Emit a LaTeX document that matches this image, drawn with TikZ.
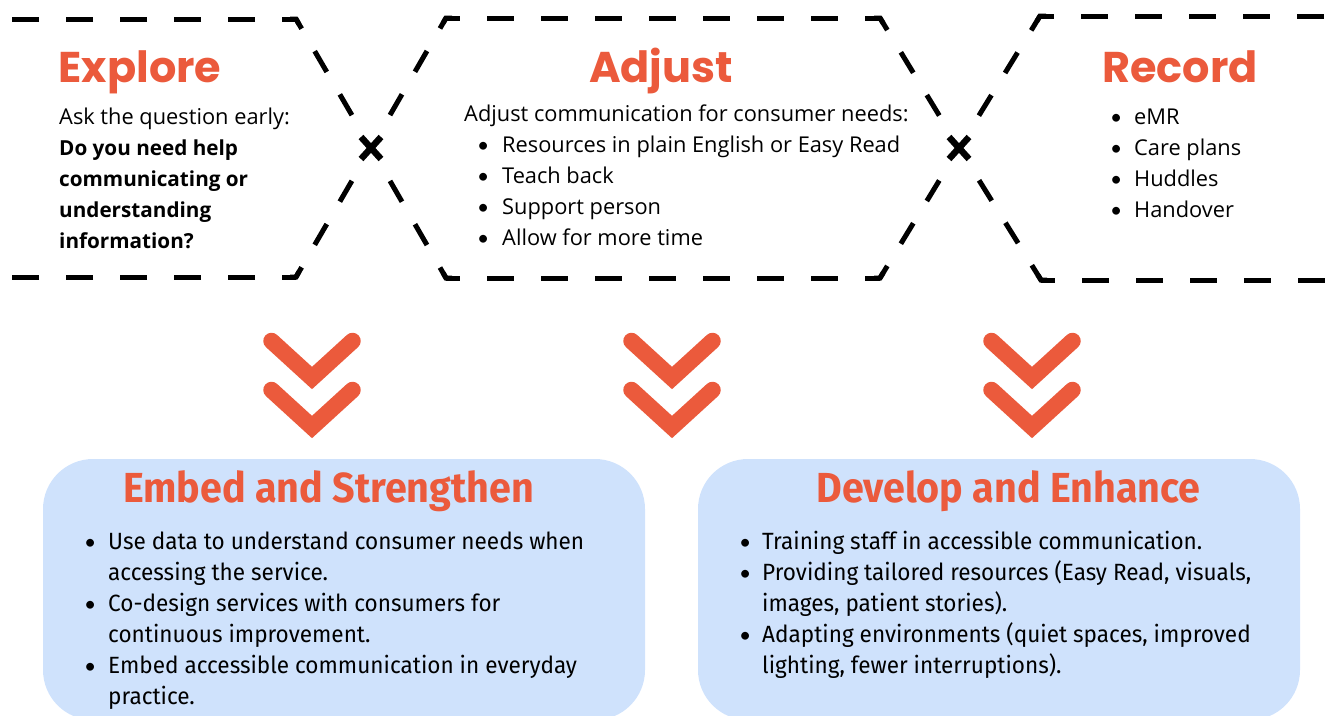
\documentclass[tikz,border=0pt]{standalone}
\usepackage{fontspec}
\setmainfont{Open Sans}
\newfontfamily\headfont{Poppins}
\newfontfamily\bulletfont{Lato}
\newfontfamily\condfont{Fira Sans}[FakeStretch=0.96]
\newfontfamily\condheadfont{Fira Sans}[FakeStretch=0.94]
\usetikzlibrary{calc}
\definecolor{accent}{HTML}{EB5A3C}
\definecolor{panel}{HTML}{CFE2FC}
% bullet marks: a fixed box holding a round dot, text follows the box
\newcommand{\dotmark}{{\bulletfont\fontsize{21}{21}\selectfont\textbullet}}
\newcommand{\topitem}{\makebox[38pt][l]{\hspace*{13pt}\dotmark}}
\newcommand{\recitem}{\makebox[24pt][l]{\dotmark}}
\newcommand{\pitem}{\makebox[24pt][l]{\dotmark}}
\newcommand{\pcont}{\hspace*{24pt}}
\newcommand{\qitem}{\makebox[23pt][l]{\dotmark}}
\newcommand{\qcont}{\hspace*{23pt}}
\newcommand{\strongline}[1]{{\fontsize{20.7}{31}\selectfont\bfseries #1}}

\begin{document}
\begin{tikzpicture}[x=1pt,y=-1pt,
  hdash/.style={line width=5pt, dash pattern=on 27pt off 27pt, dash phase=13pt},
  ddash/.style={line width=5pt, dash pattern=on 0pt off 38pt on 24pt off 26pt on 24pt off 26pt on 24pt off 26pt},
  cornerpiece/.style={line width=5pt, line join=miter},
  cross/.style={line width=6.5pt},
  chev/.style={accent, line width=16.5pt, line cap=round, line join=miter},
  panelbox/.style={fill=panel, rounded corners=50pt, draw=none},
  heading/.style={accent, font=\headfont\bfseries\fontsize{43}{43}\selectfont, inner sep=0pt, anchor=base},
  subhead/.style={accent, font=\condheadfont\bfseries\fontsize{42}{42}\selectfont, inner sep=0pt, anchor=base},
  body/.style={font=\fontsize{21.8}{31}\selectfont, inner sep=0pt, anchor=north west, align=left},
  panelbody/.style={font=\condfont\fontsize{23.5}{31}\selectfont, inner sep=0pt, anchor=north west, align=left},
]
\useasboundingbox (0,0) rectangle (1330,715);

% ---- frame vertices ----
\coordinate (X1) at (371,148);
\coordinate (X2) at (959,148);
\coordinate (ETR) at (296,19);
\coordinate (EBR) at (296,277);
\coordinate (ATL) at (446,18);
\coordinate (ABL) at (446,278);
\coordinate (ATR) at (880,18);
\coordinate (ABR) at (880,278);
\coordinate (RTL) at (1040,16);
\coordinate (RBL) at (1041,280);
\coordinate (ETL) at (12,19);
\coordinate (EBL) at (12,277);
\coordinate (RTE) at (1336,16);
\coordinate (RBE) at (1336,280);

% horizontal dashed edges, drawn from each corner outwards
\draw[hdash] (ETR) -- (ETL);
\draw[hdash] (EBR) -- (EBL);
\draw[hdash] (ATL) -- (ATR);
\draw[hdash] (ABL) -- (ABR);
\draw[hdash] (RTL) -- (RTE);
\draw[hdash] (RBL) -- (RBE);

% crossing diagonals, drawn from each crossing outwards
\foreach \v in {ETR,EBR,ATL,ABL} \draw[ddash] (X1) -- (\v);
\foreach \v in {ATR,ABR,RTL,RBL} \draw[ddash] (X2) -- (\v);

% solid bends at the corners
\draw[cornerpiece] ($(ETR)!6pt!(X1)$) -- (ETR) -- ++(-6,0);
\draw[cornerpiece] ($(EBR)!6pt!(X1)$) -- (EBR) -- ++(-6,0);
\draw[cornerpiece] ($(ATL)!6pt!(X1)$) -- (ATL) -- ++(6,0);
\draw[cornerpiece] ($(ABL)!6pt!(X1)$) -- (ABL) -- ++(6,0);
\draw[cornerpiece] ($(ATR)!6pt!(X2)$) -- (ATR) -- ++(-6,0);
\draw[cornerpiece] ($(ABR)!6pt!(X2)$) -- (ABR) -- ++(-6,0);
\draw[cornerpiece] ($(RTL)!6pt!(X2)$) -- (RTL) -- ++(6,0);
\draw[cornerpiece] ($(RBL)!6pt!(X2)$) -- (RBL) -- ++(6,0);

% crossing marks
\foreach \c in {X1,X2} {
  \draw[cross] ($(\c)+(-10,-11)$) -- ($(\c)+(10,11)$);
  \draw[cross] ($(\c)+(10,-11)$) -- ($(\c)+(-10,11)$);
}

% ---- top section texts ----
\node[heading] (explore) at (140,82) {Explore};
\node[heading] (adjust) at (661,82) {Adjust};
\node[heading] (record) at (1180,82) {Record};

\node[body] (exploretext) at (59,102.3) {\begin{tabular}{@{}l@{}}
Ask the question early:\\
\strongline{Do you need help}\\
\strongline{communicating or}\\
\strongline{understanding}\\
\strongline{information?}
\end{tabular}};

\node[body] (adjusttext) at (464,99.3) {\begin{tabular}{@{}l@{}}
Adjust communication for consumer needs:\\
\topitem Resources in plain English or Easy Read\\
\topitem Teach back\\
\topitem Support person\\
\topitem Allow for more time
\end{tabular}};

\node[body] (recordtext) at (1110,102.3) {\begin{tabular}{@{}l@{}}
\recitem eMR\\
\recitem Care plans\\
\recitem Huddles\\
\recitem Handover
\end{tabular}};

% ---- chevrons ----
\foreach \cx in {312,672,1032} {
  \draw[chev] (\cx-40.5,341) -- (\cx,378) -- (\cx+40.5,341);
  \draw[chev] (\cx-40.5,390) -- (\cx,427) -- (\cx+40.5,390);
}

% ---- lower panels ----
\fill[panelbox] (43,459) rectangle (645,720);
\fill[panelbox] (698,459) rectangle (1300,720);

\node[subhead] (embed) at (328.5,502) {Embed and Strengthen};
\node[subhead] (develop) at (1008.5,502) {Develop and Enhance};

\node[panelbody] (embedtext) at (84,527.3) {\begin{tabular}{@{}l@{}}
\pitem Use data to understand consumer needs when\\
\pcont accessing the service.\\
\pitem Co-design services with consumers for\\
\pcont continuous improvement.\\
\pitem Embed accessible communication in everyday\\
\pcont practice.
\end{tabular}};

\node[panelbody] (developtext) at (739,527.3) {\begin{tabular}{@{}l@{}}
\qitem Training staff in accessible communication.\\
\qitem Providing tailored resources (Easy Read, visuals,\\
\qcont images, patient stories).\\
\qitem Adapting environments (quiet spaces, improved\\
\qcont lighting, fewer interruptions).
\end{tabular}};
\end{tikzpicture}
\end{document}
